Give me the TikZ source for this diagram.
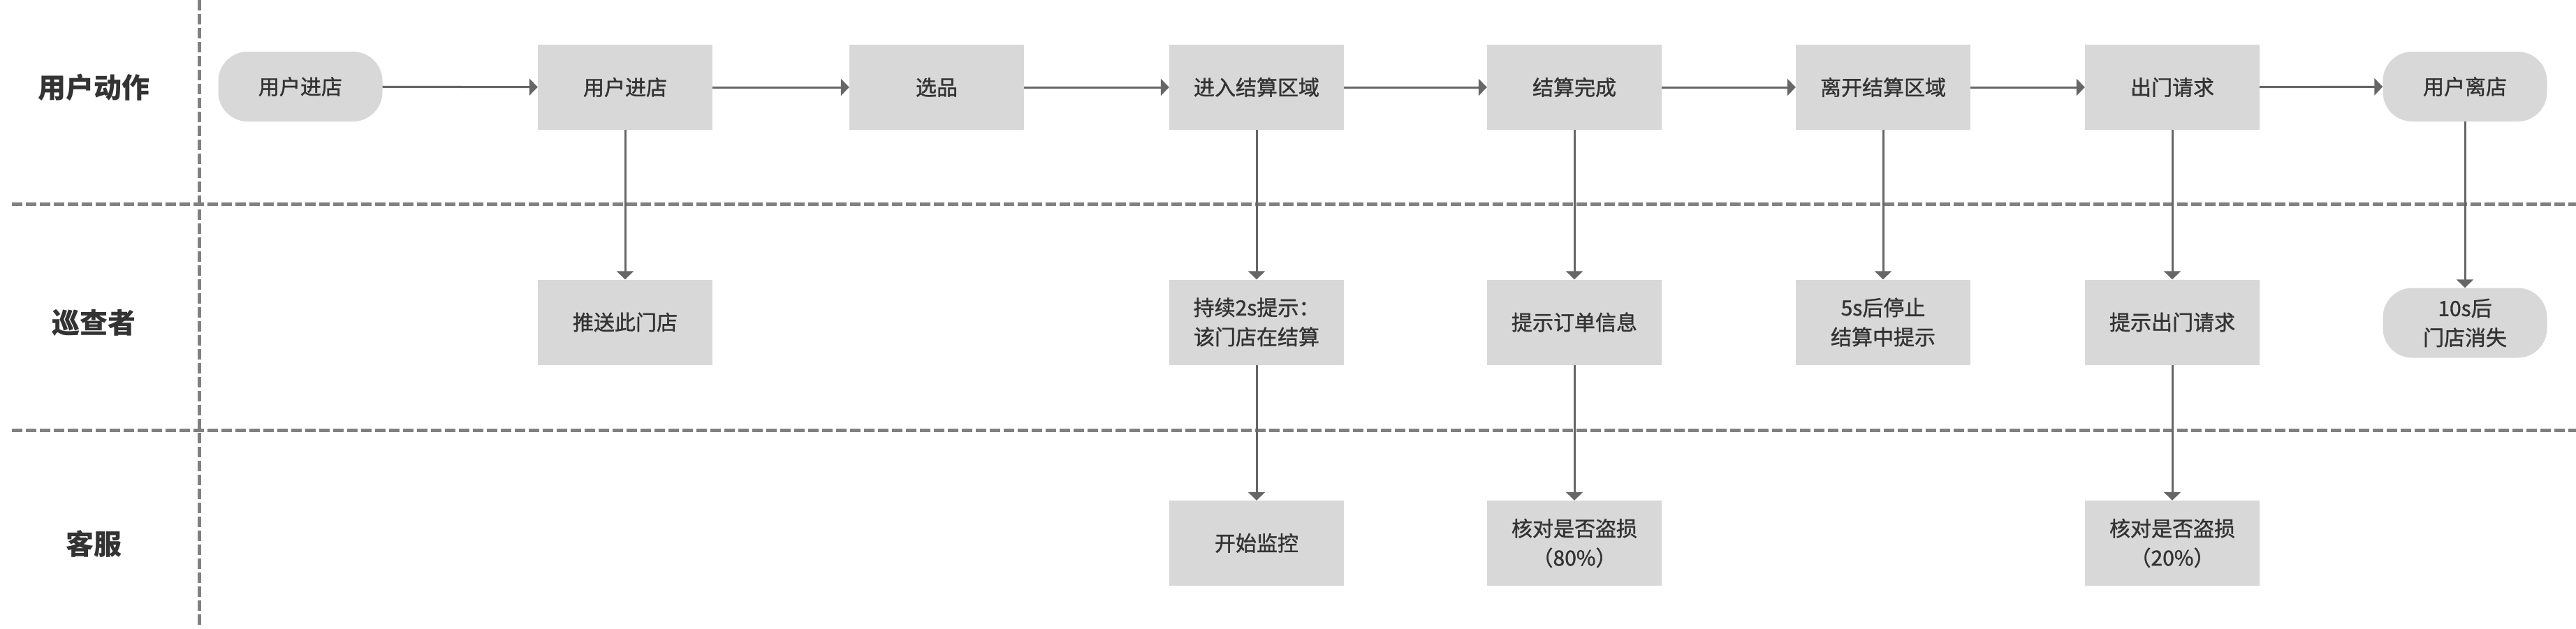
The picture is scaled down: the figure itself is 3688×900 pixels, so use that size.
\documentclass[tikz,border=0pt]{standalone}
\usepackage{fontspec}
\setmainfont{Noto Sans CJK SC}
\newfontfamily\nodefont{Noto Sans CJK SC}[FakeBold=1.2]
\usetikzlibrary{arrows.meta}
\definecolor{boxfill}{HTML}{D8D8D8}
\definecolor{arrowc}{HTML}{666666}
\definecolor{dashc}{HTML}{808080}
\definecolor{textc}{HTML}{333333}
\tikzset{
  stepbox/.style={fill=boxfill, draw=none, minimum width=250pt, minimum height=122pt, inner sep=0pt,
    font=\nodefont\fontsize{30pt}{42pt}\selectfont, text=textc, align=center},
  pillbox/.style={stepbox, minimum width=235pt, minimum height=100pt, rounded corners=42pt},
  lanelabel/.style={font=\fontsize{40pt}{48pt}\selectfont\bfseries, text=textc},
  flow/.style={draw=arrowc, line width=3pt, -{Triangle[length=12pt,width=24pt]}},
  lanesep/.style={draw=dashc, line width=5pt, dash pattern=on 15pt off 5pt}
}
\begin{document}
\begin{tikzpicture}[x=1pt,y=-1pt]
\useasboundingbox (0,0) rectangle (3688,900);
% lane separators
\coordinate (vtop) at (285,0);
\coordinate (vbot) at (285,900);
\coordinate (h1l) at (17,292);
\coordinate (h1r) at (3688,292);
\coordinate (h2l) at (17,616);
\coordinate (h2r) at (3688,616);
\draw[lanesep] (vtop) -- (vbot);
\draw[lanesep] (h1l) -- (h1r);
\draw[lanesep] (h2l) -- (h2r);
% lane labels
\node[lanelabel] (l1) at (134,125) {用户动作};
\node[lanelabel] (l2) at (134,462) {巡查者};
\node[lanelabel] (l3) at (134,779) {客服};
% lane 1
\node[pillbox] (u1) at (430,124) {用户进店};
\node[stepbox] (u2) at (895,125) {用户进店};
\node[stepbox] (u3) at (1341,125) {选品};
\node[stepbox] (u4) at (1799,125) {进入结算区域};
\node[stepbox] (u5) at (2254,125) {结算完成};
\node[stepbox] (u6) at (2696,125) {离开结算区域};
\node[stepbox] (u7) at (3110,125) {出门请求};
\node[pillbox] (u8) at (3529,124) {用户离店};
% lane 2
\node[stepbox] (p2) at (895,461.5) {推送此门店};
\node[stepbox] (p4) at (1799,461.5) {持续2s提示：\\该门店在结算};
\node[stepbox] (p5) at (2254,461.5) {提示订单信息};
\node[stepbox] (p6) at (2696,461.5) {5s后停止\\结算中提示};
\node[stepbox] (p7) at (3110,461.5) {提示出门请求};
\node[pillbox] (p8) at (3529,462.5) {10s后\\门店消失};
% lane 3
\node[stepbox] (c4) at (1799,778) {开始监控};
\node[stepbox] (c5) at (2254,778) {核对是否盗损\\（80\%）};
\node[stepbox] (c7) at (3110,778) {核对是否盗损\\（20\%）};
% connectors
\draw[flow] (u1) -- (u2);
\draw[flow] (u2) -- (u3);
\draw[flow] (u3) -- (u4);
\draw[flow] (u4) -- (u5);
\draw[flow] (u5) -- (u6);
\draw[flow] (u6) -- (u7);
\draw[flow] (u7) -- (u8);
\draw[flow] (u2) -- (p2);
\draw[flow] (u4) -- (p4);
\draw[flow] (u5) -- (p5);
\draw[flow] (u6) -- (p6);
\draw[flow] (u7) -- (p7);
\draw[flow] (u8) -- (p8);
\draw[flow] (p4) -- (c4);
\draw[flow] (p5) -- (c5);
\draw[flow] (p7) -- (c7);
\end{tikzpicture}
\end{document}
